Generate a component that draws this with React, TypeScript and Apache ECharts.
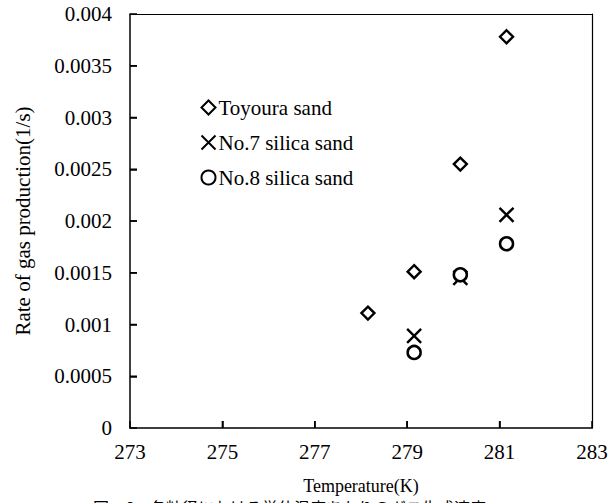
import React, { useEffect, useRef } from "react";
import * as echarts from "echarts";

const toyouraX = [278.15, 279.15, 280.15, 281.15];
const toyouraY = [0.00111, 0.00151, 0.00255, 0.00378];
const no7X = [279.15, 280.15, 281.15];
const no7Y = [0.00089, 0.00145, 0.00206];
const no8X = [279.15, 280.15, 281.15];
const no8Y = [0.00073, 0.00148, 0.00178];
const seriesNames = ["Toyoura sand", "No.7 silica sand", "No.8 silica sand"];
const xTickValues = [275, 277, 279, 281];
const yTickValues = [0.0005, 0.001, 0.0015, 0.002, 0.0025, 0.003, 0.0035];
const X_MIN = 273;
const X_MAX = 283;
const Y_MIN = 0;
const Y_MAX = 0.004;
const xTitle = "Temperature(K)";
const yTitle = "Rate of gas production(1/s)";
const caption = "図－6　各粒径における単位温度あたりのガス生成速度";

const FONT = "Liberation Serif";
const TICK_LEN = 7;

const pairs = (xs: number[], ys: number[]) => xs.map((x, i) => [x, ys[i]]);

const plainAxis = {
  axisLine: { show: true, onZero: false, lineStyle: { color: "#000", width: 1.2 } },
  axisTick: { show: false },
  axisLabel: { show: false },
  splitLine: { show: false },
};

const tickMarks = (data: number[][], dir: "x" | "y") => ({
  type: "scatter",
  silent: true,
  clip: false,
  z: 5,
  data,
  symbol: "rect",
  symbolSize: dir === "x" ? [1.5, TICK_LEN] : [TICK_LEN, 1.5],
  symbolOffset: dir === "x" ? [0, -TICK_LEN / 2] : [TICK_LEN / 2, 0],
  itemStyle: { color: "#000", opacity: 1 },
  emphasis: { disabled: true },
});

export default function App() {
  const ref = useRef<HTMLDivElement>(null);
  useEffect(() => {
    if (!ref.current) return;
    const chart = echarts.init(ref.current, null, { renderer: "svg" });
    chart.setOption({
      animation: false,
      backgroundColor: "#fff",
      textStyle: { fontFamily: FONT },
      grid: { left: 130, right: 22, top: 14, bottom: 75 },
      legend: {
        orient: "vertical",
        left: 194,
        top: 92,
        itemGap: 14,
        itemWidth: 14,
        itemHeight: 14,
        data: seriesNames,
        textStyle: { fontFamily: FONT, fontSize: 21, color: "#000", padding: [0, 0, 0, -2] },
      },
      xAxis: [
        {
          type: "value",
          min: X_MIN,
          max: X_MAX,
          interval: 2,
          name: xTitle,
          nameLocation: "middle",
          nameGap: 49,
          nameTextStyle: { fontFamily: FONT, fontSize: 18, color: "#000" },
          axisLine: { show: true, onZero: false, lineStyle: { color: "#000", width: 1.5 } },
          axisTick: { show: true, inside: true, length: TICK_LEN, lineStyle: { color: "#000", width: 1.5 } },
          axisLabel: { show: true, fontFamily: FONT, fontSize: 21, color: "#000", margin: 13 },
          splitLine: { show: false },
        },
        { type: "value", position: "top", min: X_MIN, max: X_MAX, interval: 2, ...plainAxis },
      ],
      yAxis: [
        {
          type: "value",
          min: Y_MIN,
          max: Y_MAX,
          interval: 0.0005,
          name: yTitle,
          nameLocation: "middle",
          nameGap: 97,
          nameTextStyle: { fontFamily: FONT, fontSize: 21, color: "#000" },
          axisLine: { show: true, onZero: false, lineStyle: { color: "#000", width: 1.5 } },
          axisTick: { show: true, inside: true, length: TICK_LEN, lineStyle: { color: "#000", width: 1.5 } },
          axisLabel: {
            show: true,
            fontFamily: FONT,
            fontSize: 21,
            color: "#000",
            margin: 18,
            formatter: (v: number) => String(Number(v.toFixed(4))),
          },
          splitLine: { show: false },
        },
        { type: "value", position: "right", min: Y_MIN, max: Y_MAX, interval: 0.0005, ...plainAxis },
      ],
      series: [
        tickMarks(xTickValues.map((v) => [v, Y_MIN]), "x"),
        tickMarks(yTickValues.map((v) => [X_MIN, v]), "y"),
        {
          name: seriesNames[0],
          type: "scatter",
          data: pairs(toyouraX, toyouraY),
          symbol: "path://M5,0L10,5L5,10L0,5Z",
          symbolSize: 13,
          itemStyle: { color: "#fff", borderColor: "#000", borderWidth: 2.4, opacity: 1 },
        },
        {
          name: seriesNames[1],
          type: "scatter",
          data: pairs(no7X, no7Y),
          symbol: "path://M0,0L10,10M10,0L0,10",
          symbolSize: 14,
          itemStyle: { color: "none", borderColor: "#000", borderWidth: 2.4, opacity: 1 },
        },
        {
          name: seriesNames[2],
          type: "scatter",
          data: pairs(no8X, no8Y),
          symbol: "circle",
          symbolSize: 13,
          itemStyle: { color: "#fff", borderColor: "#000", borderWidth: 2.5, opacity: 1 },
        },
      ],
      graphic: [
        {
          type: "text",
          left: 93,
          top: 499,
          style: {
            text: caption,
            fill: "#000",
            fontSize: 16,
            fontFamily: "Noto Sans CJK JP",
          },
        },
      ],
    });
    return () => chart.dispose();
  }, []);
  return <div ref={ref} style={{ width: 614, height: 503, position: "absolute", left: 0, top: 0 }} />;
}
